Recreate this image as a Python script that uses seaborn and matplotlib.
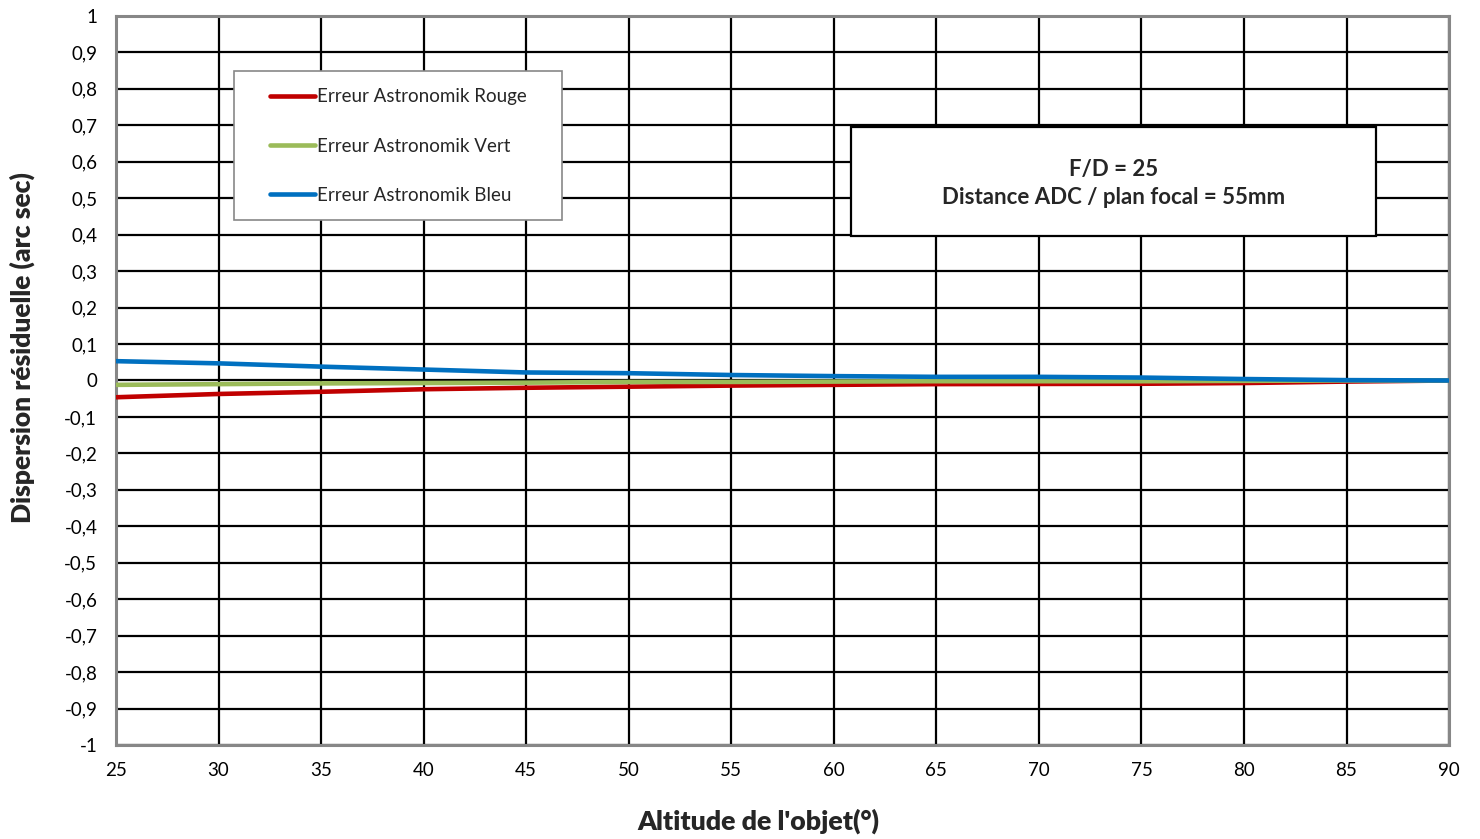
import numpy as np
import pandas as pd
import matplotlib
matplotlib.use("Agg")
import matplotlib.pyplot as plt
from matplotlib.patches import Rectangle
from matplotlib.ticker import FuncFormatter, MultipleLocator
import seaborn as sns

# Altitude of the object (degrees)
altitude = [25, 30, 35, 40, 45, 50, 55, 60, 65, 70, 75, 80, 85, 90]

# Residual dispersion (arc sec) for each Astronomik filter
erreur_rouge = [-0.046, -0.037, -0.031, -0.024, -0.020, -0.017, -0.014,
                -0.012, -0.010, -0.0095, -0.009, -0.007, -0.003, 0.0]
erreur_vert = [-0.012, -0.010, -0.008, -0.007, -0.006, -0.004, -0.004,
               -0.003, -0.002, -0.002, -0.002, -0.001, 0.0, 0.0]
erreur_bleu = [0.053, 0.047, 0.038, 0.030, 0.022, 0.020, 0.015,
               0.012, 0.010, 0.010, 0.008, 0.004, 0.001, 0.0]

series_names = ["Erreur Astronomik Rouge", "Erreur Astronomik Vert", "Erreur Astronomik Bleu"]
series_colors = ["#C00000", "#9BBB59", "#0070C0"]

df = pd.concat([
    pd.DataFrame({"altitude": altitude, "erreur": vals, "serie": name})
    for name, vals in zip(series_names, [erreur_rouge, erreur_vert, erreur_bleu])
])

sns.set_theme(style="white")
plt.rcParams["font.family"] = ["Lato", "DejaVu Sans"]

fig = plt.figure(figsize=(14.8, 8.39), dpi=100)
ax = fig.add_axes([0.0784, 0.112, 0.9007, 0.869])

sns.lineplot(data=df, x="altitude", y="erreur", hue="serie",
             palette=dict(zip(series_names, series_colors)),
             linewidth=3.3, ax=ax, legend=False, zorder=3)

ax.set_xlim(25, 90)
ax.set_ylim(-1, 1)
ax.xaxis.set_major_locator(MultipleLocator(5))
ax.yaxis.set_major_locator(MultipleLocator(0.1))


def virgule(v, pos):
    v = round(v, 1)
    if abs(v) < 1e-9:
        return "0"
    return f"{v:g}".replace(".", ",")


ax.yaxis.set_major_formatter(FuncFormatter(virgule))
ax.xaxis.set_major_formatter(FuncFormatter(lambda v, p: f"{v:g}"))

ax.grid(True, color="black", linewidth=1.6, zorder=0)
ax.set_axisbelow(True)
for i, gl in enumerate(ax.xaxis.get_gridlines()):
    if i == 1:
        gl.set_linewidth(0.7)

for sp in ax.spines.values():
    sp.set_color("#878787")
    sp.set_linewidth(2.2)
    sp.set_visible(True)

ax.tick_params(axis="both", length=0, labelsize=13.5, colors="black")
ax.tick_params(axis="y", pad=13.5)
ax.tick_params(axis="x", pad=12)

ax.set_xlabel("Altitude de l'objet(°)", fontsize=19.3, fontweight="heavy")
ax.set_ylabel("Dispersion résiduelle (arc sec)", fontsize=19, fontweight="heavy")
ax.xaxis.set_label_coords(0.482, -0.087)
ax.yaxis.set_label_coords(-0.061, 0.545)

# Legend frame and entries
ax.add_patch(Rectangle((0.0885, 0.7202), 0.2461, 0.2044, transform=ax.transAxes,
                       facecolor="white", edgecolor="#878787", linewidth=1.2, zorder=5))
handles = [plt.Line2D([], [], color=c, linewidth=3.3) for c in series_colors]
leg = ax.legend(handles, series_names, loc="upper left",
                bbox_to_anchor=(0.1155, 0.9005), frameon=False,
                fontsize=13.5, handlelength=2.4, handletextpad=0.1,
                labelspacing=1.72, borderpad=0, borderaxespad=0)
leg.set_zorder(6)

# Configuration annotation box
ax.add_patch(Rectangle((0.5514, 0.6982), 0.3938, 0.1495, transform=ax.transAxes,
                       facecolor="white", edgecolor="black", linewidth=1.6, zorder=5))
ax.text(0.748, 0.7705, "F/D = 25\nDistance ADC / plan focal = 55mm",
        transform=ax.transAxes, ha="center", va="center", multialignment="center",
        fontsize=16, fontweight="bold", linespacing=1.42, zorder=6)

fig.savefig("out.png", dpi=100, facecolor="white")
